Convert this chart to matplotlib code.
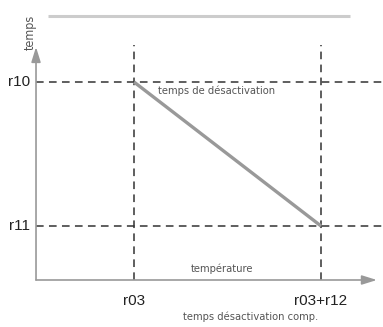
import matplotlib
matplotlib.use("Agg")
import matplotlib.pyplot as plt
from matplotlib import font_manager

# Data: temperature thresholds (x) and times (y)
x_labels = ["r03", "r03+r12"]
x_vals = [1.0, 2.0]
y_labels = ["r10", "r11"]
y_vals = [1.0, 0.0]
# deactivation time ramp: from (r03, r10) to (r03+r12, r11)
ramp_x = [1.0, 2.0]
ramp_y = [1.0, 0.0]

# look for a condensed / narrow face for the annotations
narrow_prop = None
for f in font_manager.fontManager.ttflist:
    name = f.fname.lower()
    if ("condensed" in name or "narrow" in name) and "bold" not in name and "italic" not in name and "oblique" not in name:
        narrow_prop = font_manager.FontProperties(fname=f.fname)
        break
if narrow_prop is None:
    narrow_prop = font_manager.FontProperties(family="Liberation Sans")
narrow_prop.set_size(8)
vert_prop = narrow_prop.copy()
vert_prop.set_size(9)

plain = ["Liberation Sans", "DejaVu Sans"]

fig = plt.figure(figsize=(3.83, 3.27), dpi=100)
ax = fig.add_axes([0, 0, 1, 1])
ax.set_xlim(0.2834, 2.3316)
ax.set_ylim(-0.7014, 1.5694)
ax.axis("off")

x0, y0 = 0.476, -0.375        # axis origin
x_end, y_end = 2.299, 1.243   # arrow tips

# grey rule at the top
ax.plot([0.54, 2.155], [1.458, 1.458], color="#cccccc", lw=2.2, solid_capstyle="butt")

# axes with arrows
ax.annotate("", xy=(x_end, y0), xytext=(x0, y0),
            arrowprops=dict(arrowstyle="-|>,head_length=0.9,head_width=0.28", color="#999999", lw=1.2,
                            shrinkA=0, shrinkB=0))
ax.annotate("", xy=(x0, y_end), xytext=(x0, y0),
            arrowprops=dict(arrowstyle="-|>,head_length=0.9,head_width=0.28", color="#999999", lw=1.2,
                            shrinkA=0, shrinkB=0))

# dashed guide lines
for yv in y_vals:
    ax.plot([x0, 2.3316], [yv, yv], color="#333333", lw=1.1, dashes=(5, 3.5))
for xv in x_vals:
    ax.plot([xv, xv], [y0, 1.257], color="#333333", lw=1.1, dashes=(5, 3.5))

# ramp
ax.plot(ramp_x, ramp_y, color="#999999", lw=2.4, solid_capstyle="butt")

# tick labels
for lab, yv in zip(y_labels, y_vals):
    ax.text(0.444, yv, lab, ha="right", va="center", fontsize=11, family=plain, color="#222222")
for lab, xv in zip(x_labels, x_vals):
    ax.text(xv, -0.521, lab, ha="center", va="center", fontsize=11, family=plain, color="#222222")

# annotations
ax.text(0.444, 1.222, "temps", rotation=90, ha="center", va="bottom", fontproperties=vert_prop, color="#555555")
ax.text(1.128, 0.9375, "temps de désactivation", ha="left", va="center", fontproperties=narrow_prop, color="#555555")
ax.text(1.471, -0.299, "température", ha="center", va="center", fontproperties=narrow_prop, color="#555555")
ax.text(1.626, -0.632, "temps désactivation comp.", ha="center", va="center", fontproperties=narrow_prop, color="#555555")

fig.savefig("out.png", dpi=100)
